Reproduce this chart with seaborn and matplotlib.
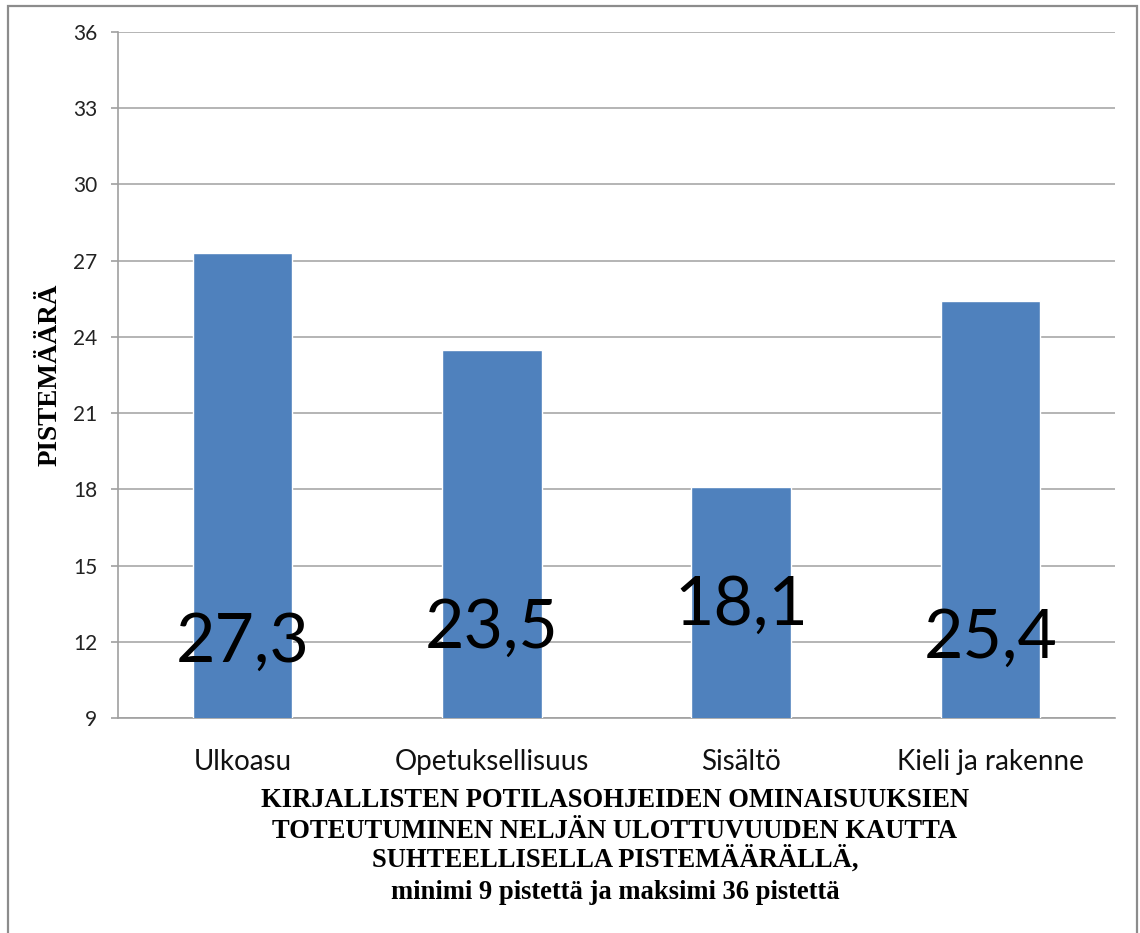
import matplotlib
matplotlib.use("Agg")
import matplotlib.pyplot as plt
import seaborn as sns
import pandas as pd
from matplotlib.patches import Rectangle

# Dimensions and mean relative scores (scale 9-36)
categories = ["Ulkoasu", "Opetuksellisuus", "Sisältö", "Kieli ja rakenne"]
scores = [27.3, 23.5, 18.1, 25.4]
y_ticks = [9, 12, 15, 18, 21, 24, 27, 30, 33, 36]

# Caption lines under the chart
caption_lines = [
    "KIRJALLISTEN POTILASOHJEIDEN OMINAISUUKSIEN",
    "TOTEUTUMINEN NELJÄN ULOTTUVUUDEN KAUTTA",
    "SUHTEELLISELLA PISTEMÄÄRÄLLÄ,",
    "minimi 9 pistettä ja maksimi 36 pistettä",
]

# Vertical placement of the value labels inside the bars (data units)
label_y = [11.95, 12.5, 13.4, 12.1]
# Baselines of the caption lines (pixels from top)
caption_baselines = [807, 838, 867, 899]

W, H = 1140, 933

sns.set_theme(style="white")
plt.rcParams["font.family"] = ["Lato", "DejaVu Sans"]

df = pd.DataFrame({"ulottuvuus": categories, "pisteet": scores})

fig = plt.figure(figsize=(W / 100, H / 100), dpi=100)
ax = fig.add_axes([118 / W, 1 - 718 / H, (1115 - 118) / W, (718 - 32) / H])

sns.barplot(data=df, x="ulottuvuus", y="pisteet", color="#4f81bd",
            width=0.4, saturation=1, ax=ax, zorder=3)

ax.set_ylim(9, 36)
ax.set_yticks(y_ticks)
ax.set_yticklabels([str(t) for t in y_ticks], fontsize=15, color="#222222")
ax.set_xlim(-0.5, len(categories) - 0.5)
ax.grid(axis="y", color="#a8a8a8", linewidth=1.2, zorder=0)
ax.set_axisbelow(True)

for side in ("top", "right"):
    ax.spines[side].set_visible(False)
for side in ("left", "bottom"):
    ax.spines[side].set_color("#a0a0a0")
    ax.spines[side].set_linewidth(1.2)

ax.tick_params(axis="y", which="major", left=True, length=5, width=1.2,
               color="#a0a0a0", pad=10)
ax.tick_params(axis="x", bottom=False, pad=16, labelsize=20, labelcolor="#111111")

ax.set_xlabel("")
ax.set_ylabel("PISTEMÄÄRÄ", family="Liberation Serif", fontweight="bold",
              fontsize=19.5, color="black")
ax.yaxis.set_label_coords((63 - 118) / (1115 - 118), 0.5)

for i, (v, ly) in enumerate(zip(scores, label_y)):
    ax.text(i, ly, f"{v:.1f}".replace(".", ","), ha="center", va="center",
            fontsize=49, color="black", zorder=4)

for line, yb in zip(caption_lines, caption_baselines):
    fig.text(615 / W, 1 - yb / H, line, ha="center", va="baseline",
             family="Liberation Serif", fontweight="bold",
             fontsize=19.2, color="black")

# Outer chart frame
fig.patches.append(Rectangle((8 / W, -0.05), (1137 - 8) / W, 1.05 - 6 / H,
                             transform=fig.transFigure, fill=False,
                             edgecolor="#8c8c8c", linewidth=1.6))

fig.savefig("out.png", dpi=100)
